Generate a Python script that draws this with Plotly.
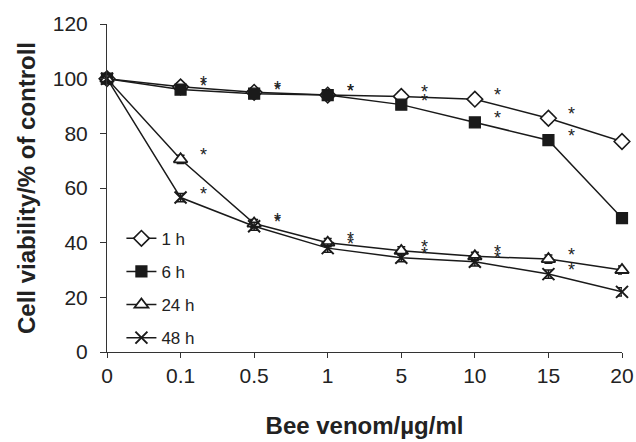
import plotly.graph_objects as go

categories = ["0", "0.1", "0.5", "1", "5", "10", "15", "20"]
h1 = [100, 97, 95, 94, 93.5, 92.5, 85.5, 77]
h6 = [100, 96, 94.5, 94, 90.5, 84, 77.5, 49]
h24 = [100, 70.5, 47, 40, 37, 35, 34, 30]
h48 = [100, 56.5, 46, 38, 34.5, 33, 28.5, 22]
err = [1.5, 1.5, 1.5, 1.5, 1.5, 1.5, 1.5, 1.5]
sig = [0, 1, 1, 1, 1, 1, 1, 0]
names = ["1 h", "6 h", "24 h", "48 h"]

LC = "#1a1a1a"
series = [
    (h1, names[0], "diamond", 12, "white", 1.6),
    (h6, names[1], "square", 11, LC, 1.2),
    (h24, names[2], "triangle-up", 12, "white", 1.8),
    (h48, names[3], "x-thin", 12, LC, 2.0),
]

fig = go.Figure()
for vals, nm, sym, sz, fc, lw in series:
    fig.add_trace(go.Scatter(
        x=categories, y=vals, name=nm, mode="lines+markers",
        legendgroup=nm, cliponaxis=False,
        line=dict(color=LC, width=1.5),
        marker=dict(symbol=sym, size=sz, color=fc,
                    line=dict(color=LC, width=lw)),
        error_y=dict(type="data", array=err, width=4, thickness=1.5, color=LC),
    ))

annotations = []
for vals, nm, *_ in series:
    for i, v in enumerate(vals):
        if sig[i]:
            annotations.append(dict(
                x=i, y=v, xref="x", yref="y", text="*", showarrow=False,
                xshift=23, yshift=4,
                font=dict(family="Liberation Sans, Arial", size=18, color="#222"),
            ))

fig.update_layout(
    width=636, height=442,
    margin=dict(l=107, r=14, t=24, b=90),
    paper_bgcolor="white", plot_bgcolor="white",
    font=dict(family="Liberation Sans, Arial", size=21, color="#222"),
    showlegend=True,
    legend=dict(x=0.028, y=0.40, xanchor="left", yanchor="top",
                bgcolor="rgba(0,0,0,0)", tracegroupgap=8,
                font=dict(size=17, color="#222")),
    annotations=annotations,
    xaxis=dict(
        type="category", categoryorder="array", categoryarray=categories,
        range=[0, 7], showgrid=False, zeroline=False, automargin=False,
        showline=True, linecolor="#333", linewidth=1,
        ticks="outside", ticklen=5, tickcolor="#333",
        ticklabeloverflow="allow",
        tickfont=dict(size=21),
        title=dict(text="<b>Bee venom/µg/ml</b>", font=dict(size=24), standoff=30),
    ),
    yaxis=dict(
        range=[0, 120], dtick=20, showgrid=False, zeroline=False, automargin=False,
        showline=True, linecolor="#333", linewidth=1,
        ticks="outside", ticklen=6, tickcolor="#333", ticklabelstandoff=8,
        tickfont=dict(size=21),
        title=dict(text="<b>Cell viability/% of controll</b>", font=dict(size=24), standoff=10),
    ),
)

fig.write_html(
    "out.html",
    config={"displayModeBar": False},
    post_script="document.body.style.margin='0';document.body.style.overflow='hidden';",
)
